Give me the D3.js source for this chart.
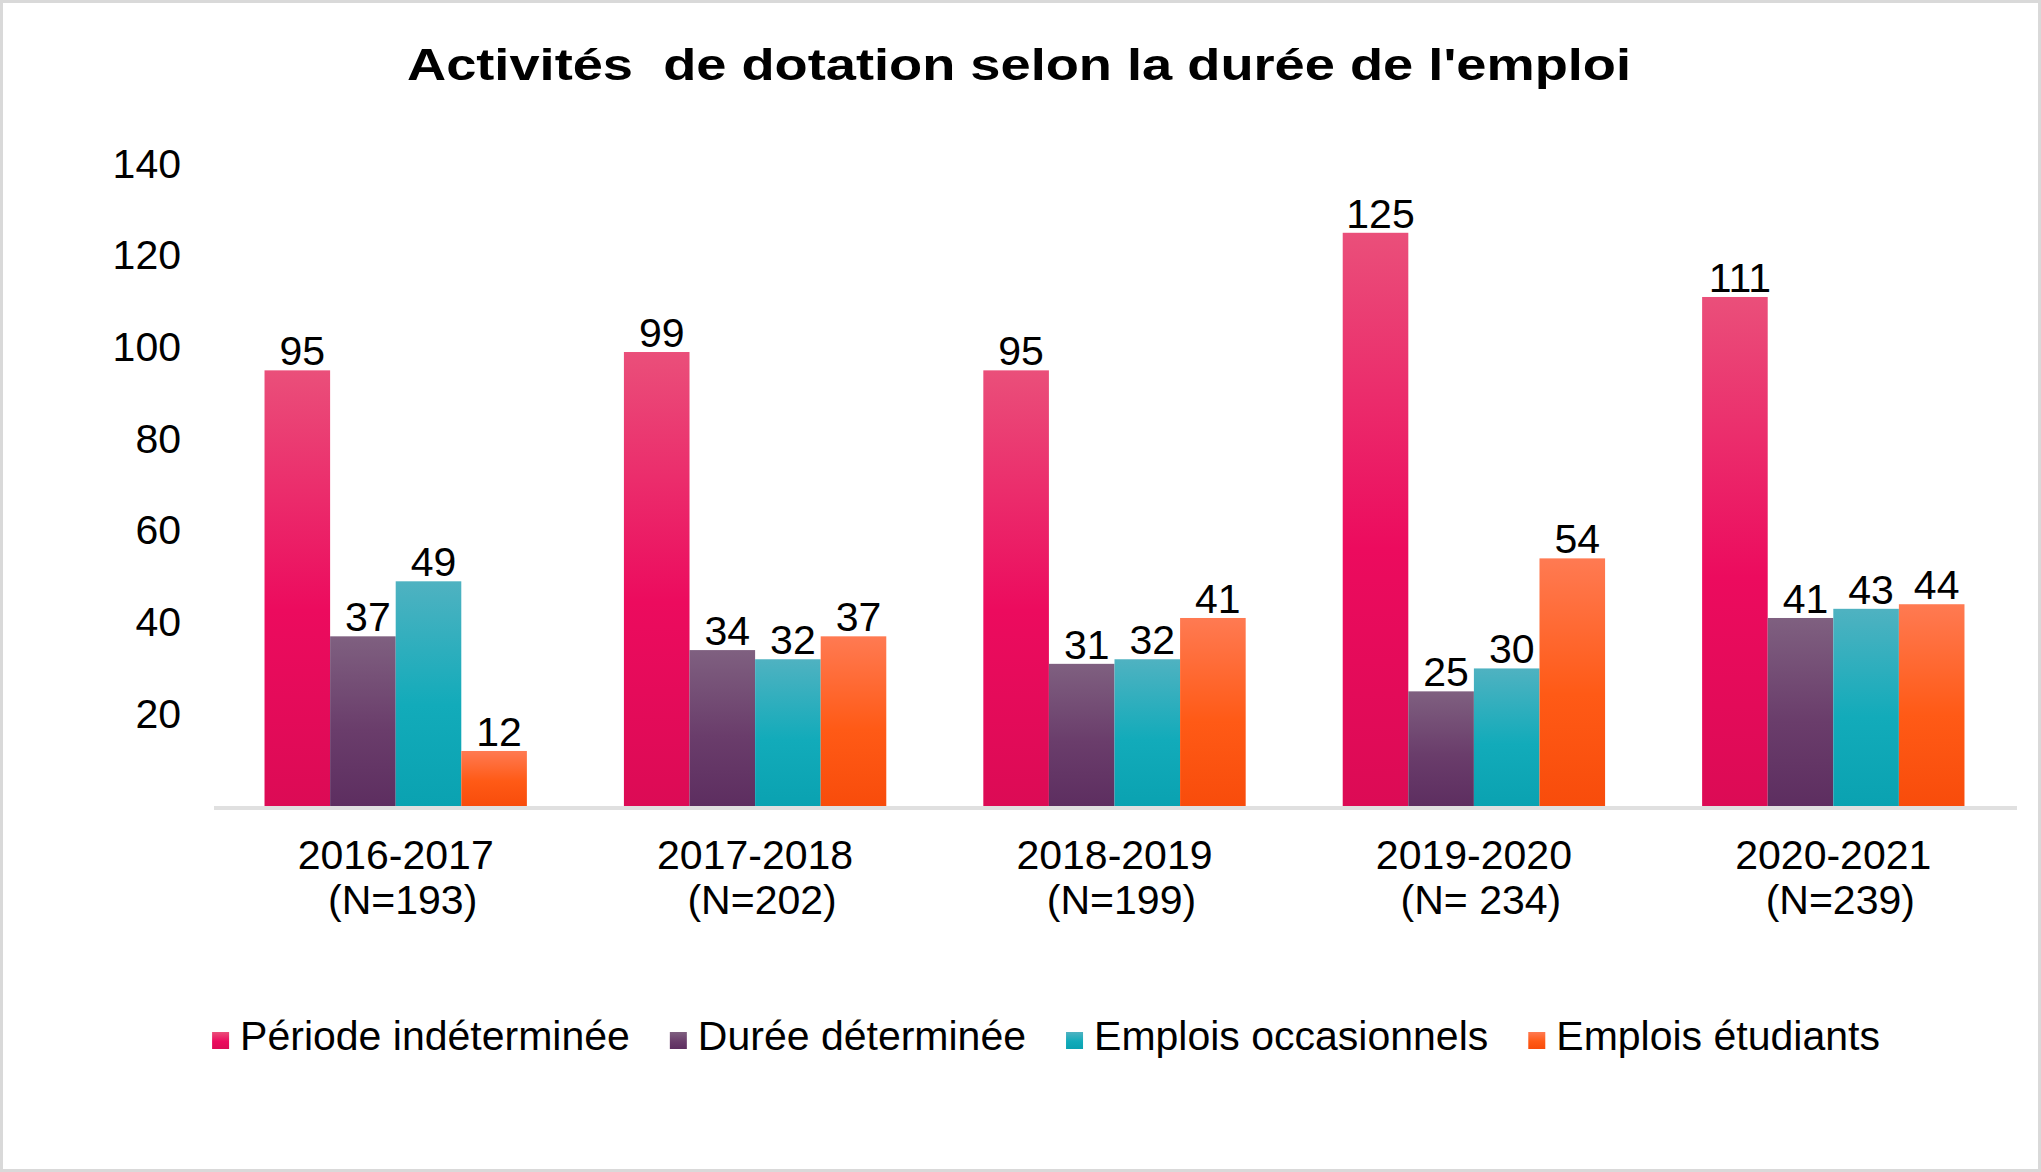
<!DOCTYPE html>
<html>
<head>
<meta charset="utf-8">
<script src="https://cdn.jsdelivr.net/npm/d3@7"></script>
<style>
  body { margin: 0; background: #fff; }
  text { font-family: Arial, "Liberation Sans", sans-serif; fill: #000; }
</style>
</head>
<body>
<svg id="chart" width="2041" height="1172"></svg>
<script>
// data
var years = ['2016-2017', '2017-2018', '2018-2019', '2019-2020', '2020-2021'];
var counts = ['(N=193)', '(N=202)', '(N=199)', '(N= 234)', '(N=239)'];
var seriesNames = ['Période indéterminée', 'Durée déterminée', 'Emplois occasionnels', 'Emplois étudiants'];
var indeterminee = [95, 99, 95, 125, 111];
var determinee = [37, 34, 31, 25, 41];
var occasionnels = [49, 32, 32, 30, 43];
var etudiants = [12, 37, 41, 54, 44];
var yTicks = [20, 40, 60, 80, 100, 120, 140];

var W = 2041, H = 1172,
    FONT = 41;

// light -> strong -> slightly darker, like the office gradient fill
var gradStops = [
    ['#ea4f7a', '#ec0b5e', '#dc0b55'],
    ['#7f6080', '#6a3d6b', '#5d2e60'],
    ['#4fb2c1', '#12abba', '#0aa2b1'],
    ['#ff7a52', '#ff5a16', '#f84c0b']
];

var svg = d3.select('#chart');

svg.append('rect')
    .attr('x', 1.5).attr('y', 1.5)
    .attr('width', W - 3).attr('height', H - 3)
    .attr('fill', '#fff')
    .attr('stroke', '#d9d9d9')
    .attr('stroke-width', 3);

var defs = svg.append('defs');
gradStops.forEach((stops, i) => {
    var g = defs.append('linearGradient')
        .attr('id', 'grad' + i)
        .attr('x1', 0).attr('y1', 0)
        .attr('x2', 0).attr('y2', 1);
    g.append('stop').attr('offset', '0%').attr('stop-color', stops[0]);
    g.append('stop').attr('offset', '55%').attr('stop-color', stops[1]);
    g.append('stop').attr('offset', '100%').attr('stop-color', stops[2]);
});

// title (the source is stretched sideways, so fit it to its width)
svg.append('text')
    .attr('x', 407)
    .attr('y', 80)
    .attr('textLength', 1224)
    .attr('lengthAdjust', 'spacingAndGlyphs')
    .style('font-size', '45px')
    .style('font-weight', 'bold')
    .style('white-space', 'pre')
    .text("Activités  de dotation selon la durée de l'emploi");

var x0 = d3.scaleBand()
    .domain(years)
    .range([216, 2013])
    .paddingInner(0.27)
    .paddingOuter(0.135);

var x1 = d3.scaleBand()
    .domain(d3.range(seriesNames.length))
    .range([0, x0.bandwidth()]);

var y = d3.scaleLinear()
    .domain([0, 140])
    .range([806, 164]);

// y axis labels
var yAxis = svg.append('g')
    .attr('transform', 'translate(181,0)')
    .call(d3.axisLeft(y).tickValues(yTicks).tickSize(0).tickPadding(0));
yAxis.select('.domain').remove();
yAxis.selectAll('text')
    .style('font-size', FONT + 'px')
    .attr('fill', '#000');

var table = years.map((yr, i) => ({
    year: yr,
    values: [indeterminee[i], determinee[i], occasionnels[i], etudiants[i]]
}));

var groups = svg.selectAll('g.year')
    .data(table)
    .enter().append('g')
    .attr('class', 'year')
    .attr('transform', d => `translate(${x0(d.year)},0)`);

groups.selectAll('rect')
    .data(d => d.values)
    .enter().append('rect')
    .attr('x', (v, i) => x1(i))
    .attr('y', v => y(v))
    .attr('width', x1.bandwidth())
    .attr('height', v => y(0) - y(v))
    .attr('fill', (v, i) => `url(#grad${i})`);

groups.selectAll('text.val')
    .data(d => d.values)
    .enter().append('text')
    .attr('class', 'val')
    .attr('x', (v, i) => x1(i) + x1.bandwidth() / 2 + 5)
    .attr('y', v => y(v) - 5)
    .attr('text-anchor', 'middle')
    .style('font-size', FONT + 'px')
    .text(v => v);

// category axis line
svg.append('line')
    .attr('x1', 214).attr('x2', 2017)
    .attr('y1', y(0) + 2).attr('y2', y(0) + 2)
    .attr('stroke', '#e0e0e0')
    .attr('stroke-width', 4);

// category labels, two lines
var cat = svg.selectAll('text.cat')
    .data(years)
    .enter().append('text')
    .attr('class', 'cat')
    .attr('text-anchor', 'middle')
    .style('font-size', FONT + 'px');
cat.append('tspan')
    .attr('x', d => x0(d) + x0.bandwidth() / 2)
    .attr('y', 869)
    .text(d => d);
cat.append('tspan')
    .attr('x', d => x0(d) + x0.bandwidth() / 2 + 7)
    .attr('y', 914)
    .text((d, i) => counts[i]);

// legend
var legend = svg.append('g');
var items = legend.selectAll('g')
    .data(seriesNames)
    .enter().append('g');
items.append('rect')
    .attr('width', 17).attr('height', 17)
    .attr('y', -18)
    .attr('fill', (d, i) => `url(#grad${i})`);
items.append('text')
    .attr('x', 28)
    .attr('y', 0)
    .style('font-size', FONT + 'px')
    .text(d => d);

var lx = 0;
items.each(function() {
    var el = d3.select(this);
    el.attr('transform', `translate(${lx},0)`);
    lx += 28 + el.select('text').node().getComputedTextLength() + 40;
});
lx -= 40;
legend.attr('transform', `translate(${1046 - lx / 2},1050)`);
</script>
</body>
</html>
